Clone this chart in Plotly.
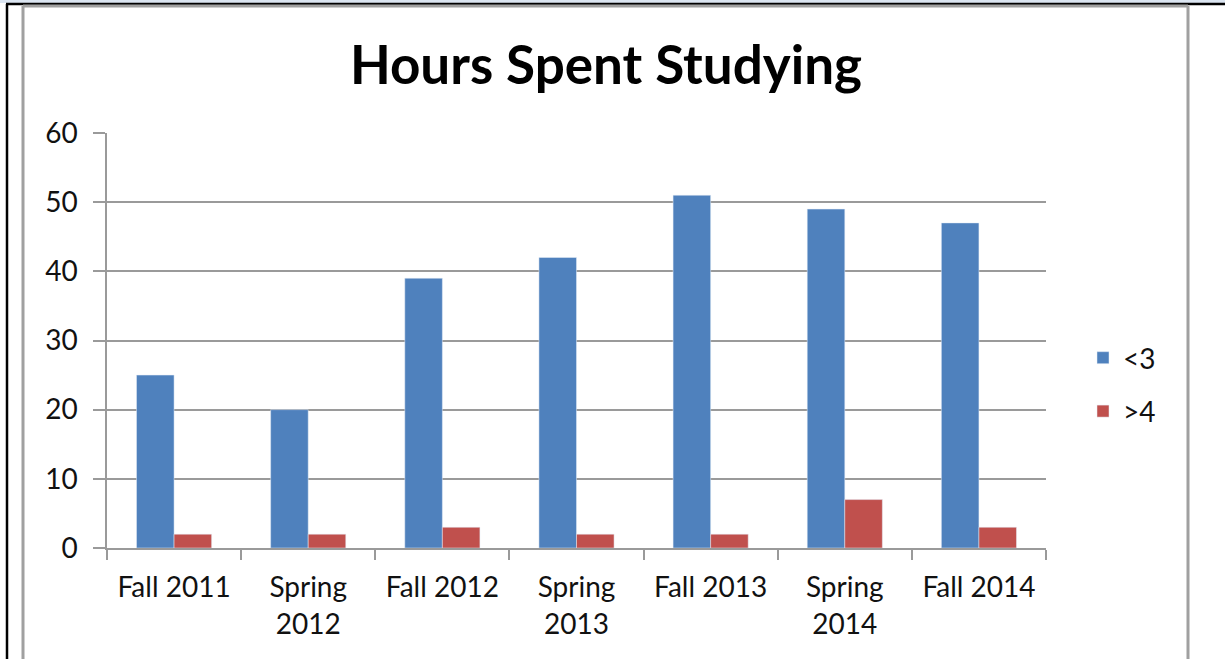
import plotly.graph_objects as go

categories = ["Fall 2011", "Spring<br>2012", "Fall 2012", "Spring<br>2013",
              "Fall 2013", "Spring<br>2014", "Fall 2014"]
series_names = ["<3", ">4"]
less_than_3 = [25, 20, 39, 42, 51, 49, 47]
more_than_4 = [2, 2, 3, 2, 2, 7, 3]
y_ticks = [0, 10, 20, 30, 40, 50, 60]

W, H = 1225, 659
L, R, T, B = 107, 1046, 133, 548  # plot area in pixels


def px(x):
    return (x - L) / (R - L)


def py(y):
    return (B - y) / (B - T)


FONT = "Lato"
GRID = "#9a9a9a"
TXT = "#111111"

fig = go.Figure()
fig.add_bar(x=categories, y=less_than_3, name=series_names[0], marker_color="#4F81BD",
            legendgroup="a")
fig.add_bar(x=categories, y=more_than_4, name=series_names[1], marker_color="#C0504D",
            legendgroup="b")

shapes = [
    # light band at top
    dict(type="rect", xref="paper", yref="paper", x0=px(0), x1=px(W), y0=py(0), y1=py(3),
         fillcolor="#dbe5f1", line_width=0, layer="below"),
    # black outer lines
    dict(type="line", xref="paper", yref="paper", x0=px(6), x1=px(W), y0=py(4), y1=py(4),
         line=dict(color="black", width=2.5)),
    dict(type="line", xref="paper", yref="paper", x0=px(7), x1=px(7), y0=py(4), y1=py(H + 2),
         line=dict(color="black", width=2.5)),
    # gray chart frame
    dict(type="line", xref="paper", yref="paper", x0=px(23), x1=px(1188), y0=py(6), y1=py(6),
         line=dict(color="#a0a0a0", width=3)),
    dict(type="line", xref="paper", yref="paper", x0=px(23), x1=px(23), y0=py(6), y1=py(H + 2),
         line=dict(color="#a0a0a0", width=3)),
    dict(type="line", xref="paper", yref="paper", x0=px(1188), x1=px(1188), y0=py(6), y1=py(H + 2),
         line=dict(color="#a0a0a0", width=3)),
]

fig.update_layout(
    width=W, height=H, autosize=False,
    margin=dict(l=L, r=W - R, t=T, b=H - B, pad=0),
    paper_bgcolor="white", plot_bgcolor="white",
    barmode="group", bargap=0.44, bargroupgap=0,
    title=dict(text="<b>Hours Spent Studying</b>", x=606 / W, xanchor="center",
               y=1 - 65 / H, yanchor="middle", yref="container",
               font=dict(family=FONT, size=53, color="black")),
    font=dict(family=FONT, size=28, color=TXT),
    legend=dict(x=px(1083), xanchor="left", y=py(333), yanchor="top",
                font=dict(family=FONT, size=28, color=TXT),
                tracegroupgap=14, bgcolor="rgba(0,0,0,0)", itemwidth=30),
    shapes=shapes,
    xaxis=dict(showline=True, linecolor=GRID, linewidth=1.5, ticks="outside",
               tickson="boundaries", ticklen=10, tickcolor=GRID, tickwidth=1.5,
               showgrid=False, ticklabelstandoff=14,
               tickfont=dict(family=FONT, size=28, color=TXT)),
    yaxis=dict(range=[0, 60], tickvals=y_ticks, showline=True, linecolor=GRID, linewidth=1.5,
               ticks="outside", ticklen=12, tickcolor=GRID, tickwidth=1.5,
               showgrid=True, gridcolor=GRID, gridwidth=1.5, zeroline=False,
               ticklabelstandoff=10,
               tickfont=dict(family=FONT, size=28, color=TXT)),
)

fig.write_html("out.html", config={"displayModeBar": False},
               post_script="document.body.style.margin='0px';"
               "document.body.style.overflow='hidden';")
